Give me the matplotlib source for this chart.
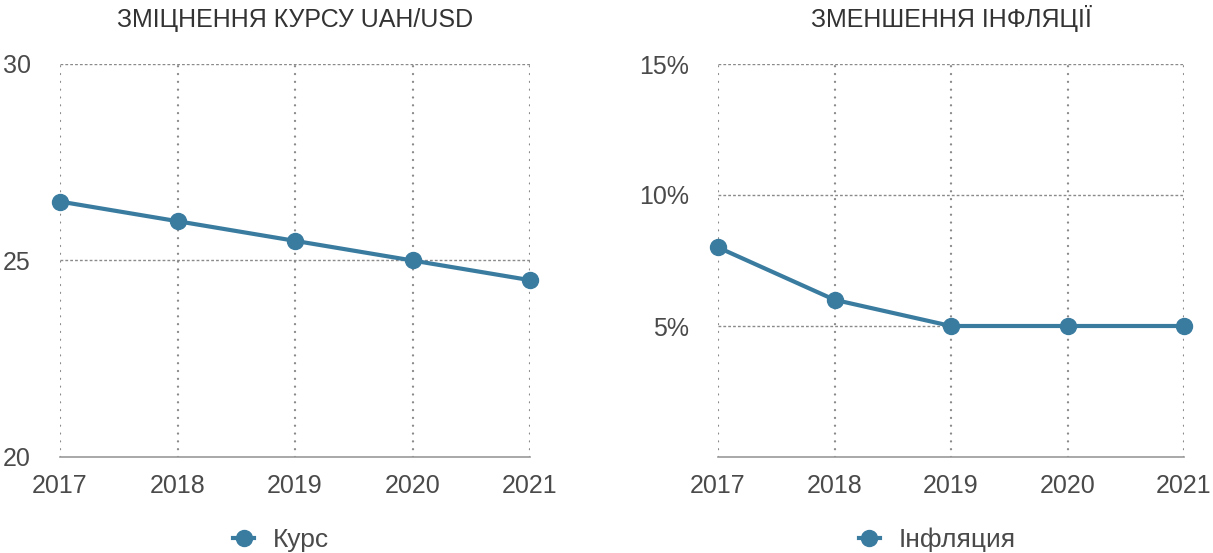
import matplotlib
matplotlib.use("Agg")
import matplotlib.pyplot as plt

plt.rcParams['font.family'] = ['Liberation Sans', 'DejaVu Sans']

years = [2017, 2018, 2019, 2020, 2021]
rate = [26.5, 26.0, 25.5, 25.0, 24.5]
inflation = [8.0, 6.0, 5.0, 5.0, 5.0]

title_left = "ЗМІЦНЕННЯ КУРСУ UAH/USD"
title_right = "ЗМЕНШЕННЯ ІНФЛЯЦІЇ"
label_left = "Курс"
label_right = "Інфляция"

line_color = "#3a7ca0"
text_color = "#4a4a4a"
grid_color = "#8a8a8a"

fig = plt.figure(figsize=(12.13, 5.53), dpi=100)
ax1 = fig.add_axes([60/1213, 96/553, 470/1213, 393/553])
ax2 = fig.add_axes([718/1213, 96/553, 466/1213, 393/553])


def style(ax, title, yticks, ylabels, ylim):
	ax.set_xlim(years[0], years[-1])
	ax.set_ylim(*ylim)
	ax.set_xticks(years)
	ax.set_xticklabels([str(y) for y in years])
	ax.set_yticks(yticks)
	ax.set_yticklabels(ylabels)
	for s in ["top", "right", "left"]:
		ax.spines[s].set_visible(False)
	ax.spines["bottom"].set_color("#9a9a9a")
	ax.spines["bottom"].set_linewidth(1.2)
	ax.tick_params(axis="both", length=0, labelsize=18, colors=text_color)
	ax.tick_params(axis="y", pad=21)
	ax.tick_params(axis="x", pad=12)
	# grid drawn by hand so horizontal and vertical styles differ
	for y in yticks:
		if y != ylim[0]:
			ax.axhline(y, color=grid_color, lw=1.0, ls=(0, (2, 1.5)), zorder=1)
	for x in years:
		ax.axvline(x, color=grid_color, lw=1.7, ls=(0, (0.01, 3.3)), zorder=1,
			dash_capstyle="round")
	ax.set_title(title, fontsize=18, color="#333333", pad=27)


style(ax1, title_left, [20, 25, 30], ["20", "25", "30"], (20, 30))
style(ax2, title_right, [5, 10, 15], ["5%", "10%", "15%"], (0, 15))

ax1.plot(years, rate, color=line_color, lw=3, marker="o", ms=11.5,
	clip_on=False, zorder=3, label=label_left)
ax2.plot(years, inflation, color=line_color, lw=3, marker="o", ms=11.5,
	clip_on=False, zorder=3, label=label_right)

for ax in (ax1, ax2):
	leg = ax.legend(loc="upper center", bbox_to_anchor=(0.47, -0.12), frameon=False,
		fontsize=19, handlelength=0.8, handletextpad=0.7)
	for t in leg.get_texts():
		t.set_color(text_color)

fig.savefig("out.png", dpi=100)
